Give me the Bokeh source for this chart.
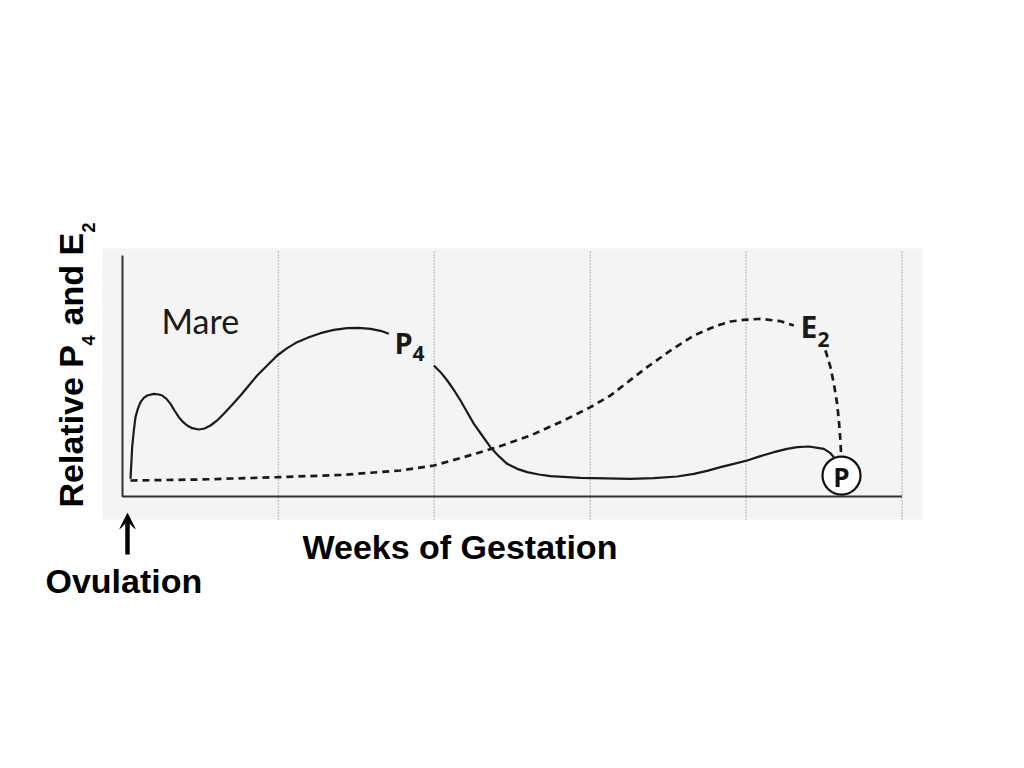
from bokeh.plotting import figure
from bokeh.models import Range1d, Label, Arrow, VeeHead
from bokeh.embed import file_html
from bokeh.resources import INLINE
from bokeh.core.properties import value

# ---------------- data (weeks of gestation, relative level 0-100) ----------------
p4_weeks_a = [0.513, 0.577, 0.620, 0.727, 0.834, 0.983, 1.155, 1.368, 1.582, 2.010,
              2.330, 2.545, 2.822, 3.079, 3.335, 3.613, 3.892, 4.148, 4.469, 4.896,
              5.260, 5.645, 6.072, 6.500, 7.035, 7.569, 8.103, 8.638, 9.280, 9.921,
              10.562, 11.204, 11.952, 12.700, 13.556, 14.411, 15.159, 15.908, 16.549, 17.084]
p4_level_a = [7.33, 14.94, 20.47, 27.39, 32.92, 36.38, 39.14, 40.94, 41.91, 42.60,
              42.32, 41.91, 40.53, 38.45, 35.68, 32.92, 30.84, 29.46, 28.35, 27.80,
              28.22, 29.46, 31.54, 34.30, 38.04, 41.91, 46.06, 50.21, 54.36, 58.51,
              61.55, 64.04, 66.11, 67.77, 69.16, 69.85, 69.99, 69.57, 68.74, 67.50]
p4_weeks_b = [19.97, 20.40, 20.83, 21.25, 21.68, 22.11, 22.54, 23.07, 23.60, 24.14,
              24.67, 25.32, 25.96, 26.71, 27.45, 29.38, 32.58, 34.08, 35.58, 36.65,
              37.50, 38.36, 39.21, 40.07, 40.92, 41.78, 42.63, 43.28, 44.02, 44.99,
              45.41, 45.63]
p4_level_b = [54.36, 51.59, 48.13, 44.26, 39.83, 34.99, 30.15, 25.31, 20.47, 16.74,
              13.56, 11.48, 10.10, 9.13, 8.44, 7.75, 7.33, 7.61, 8.30, 9.41,
              10.65, 12.17, 13.56, 14.94, 16.74, 18.39, 19.78, 20.47, 20.75, 19.78,
              17.98, 16.32]
e2_weeks_a = [0.51, 5.00, 9.92, 13.98, 17.83, 19.97, 21.89, 24.03, 26.17, 28.31,
              30.02, 31.30, 32.26, 33.65, 35.15, 36.65, 38.14, 39.00, 39.85, 40.92,
              42.21, 43.06]
e2_level_a = [6.64, 7.05, 8.02, 8.92, 10.79, 12.86, 16.32, 20.47, 25.31, 31.54,
              37.07, 41.91, 46.75, 53.66, 60.58, 66.80, 70.95, 72.61, 73.31, 73.72,
              72.75, 70.95]
e2_weeks_b = [45.09, 45.41, 45.63, 45.84, 45.95, 46.05, 46.10]
e2_level_b = [60.6, 53.7, 46.8, 38.5, 31.5, 23.2, 16.3]
grid_weeks = [10, 20, 30, 40, 50]
axis_x_max = 50
axis_y_max = 100
parturition_week = 46.12
parturition_level = 8.7
ovulation_week = 0.32

# ---------------- layout helpers (page pixels -> data) ----------------
W, H = 1008, 752
ORIGIN_X, ORIGIN_Y = 122.0, 496.0
PX_PER_WEEK = 15.59
PX_PER_UNIT = 2.41


def X(px):
    return (px - ORIGIN_X) / PX_PER_WEEK


def Y(py):
    return (ORIGIN_Y - py) / PX_PER_UNIT


p = figure(width=W, height=H,
           x_range=Range1d(X(0), X(W)), y_range=Range1d(Y(H), Y(0)),
           toolbar_location=None, output_backend="svg", min_border=0,
           x_axis_type=None, y_axis_type=None)
p.outline_line_color = None
p.background_fill_color = "white"
p.border_fill_color = "white"

# light panel
p.quad(left=[X(102)], right=[X(922)], bottom=[Y(519)], top=[Y(248)],
       fill_color="#f4f4f4", line_color=None)

# dotted vertical gridlines
p.segment(x0=grid_weeks, y0=[Y(519)] * len(grid_weeks), x1=grid_weeks,
          y1=[Y(250)] * len(grid_weeks), line_color="#999999", line_width=1.5,
          line_dash="1 2")

# axis lines
p.line(x=[0, 0, axis_x_max], y=[axis_y_max, 0, 0], line_color="#333333", line_width=2)

# curves
p.line(p4_weeks_a, p4_level_a, line_color="#1a1a1a", line_width=2.2, line_join="round")
p.line(p4_weeks_b, p4_level_b, line_color="#1a1a1a", line_width=2.2, line_join="round")
p.line(e2_weeks_a, e2_level_a, line_color="#1a1a1a", line_width=2.7, line_dash="7 5")
p.line(e2_weeks_b, e2_level_b, line_color="#1a1a1a", line_width=2.7, line_dash="7 5")

# parturition marker
p.scatter([parturition_week], [parturition_level], marker="circle", size=38,
          fill_color="white", line_color="#111111", line_width=2.2)
p.text(x=[parturition_week], y=[Y(476)], text=["P"], text_font=value("Open Sans"),
       text_font_style="bold", text_font_size="26px", text_align="center",
       text_baseline="middle", text_color="#111111")


# labels: y is the page y of the capitals' middle
def lab(x, y, t, size, font="Lato", style="normal", angle=0, color="#1a1a1a"):
    p.add_layout(Label(x=x, y=y, text=t, text_font=font, text_font_size=size,
                       text_font_style=style, text_align="left",
                       text_baseline="middle", angle=angle,
                       angle_units="deg", text_color=color))


lab(X(161), Y(320), "Mare", "34px")
lab(X(394), Y(342), "P", "29px", font="Open Sans", style="bold")
lab(X(412), Y(353), "4", "21px", font="Open Sans", style="bold")
lab(X(800), Y(326), "E", "30px", font="Open Sans", style="bold")
lab(X(817), Y(339), "2", "21px", font="Open Sans", style="bold")

# outer labels
F = "Liberation Sans"
lab(X(302), Y(546), "Weeks of Gestation", "34px", font=F, style="bold", color="black")
lab(X(45), Y(580.5), "Ovulation", "34px", font=F, style="bold", color="black")
lab(X(70.5), Y(507), "Relative P", "34px", font=F, style="bold", angle=90, color="black")
lab(X(88), Y(345), "4", "18px", font=F, style="bold", angle=90, color="black")
lab(X(70.5), Y(325), "and E", "34px", font=F, style="bold", angle=90, color="black")
lab(X(88), Y(232), "2", "18px", font=F, style="bold", angle=90, color="black")

# ovulation arrow
p.add_layout(Arrow(end=VeeHead(size=15, fill_color="black", line_color="black", line_width=1),
                   x_start=ovulation_week, y_start=Y(554), x_end=ovulation_week, y_end=Y(513),
                   line_width=4.5, line_color="black"))

open("out.html", "w").write(file_html(p, INLINE))
